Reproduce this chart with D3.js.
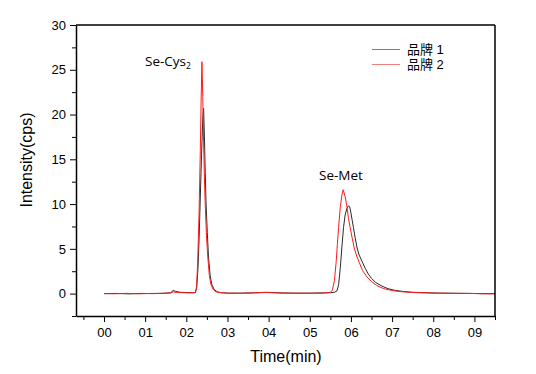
<!DOCTYPE html>
<html><head><meta charset="utf-8">
<script src="https://cdn.jsdelivr.net/npm/d3@7/dist/d3.min.js"></script>
<style>body{margin:0;background:#fff}svg{display:block}</style>
</head><body>
<svg id="c" width="536" height="374"></svg>
<script>
// ---- data ----
const seriesNames = ["品牌 1", "品牌 2"];
const time1 = [0,0.3,0.6,0.9,1.2,1.5,1.62,1.68,1.74,1.85,2.0,2.15,2.22,2.25,2.28,2.31,2.335,2.37,2.40,2.42,2.44,2.46,2.48,2.51,2.54,2.58,2.62,2.68,2.75,2.85,3.0,3.3,3.6,3.95,4.3,4.6,5.0,5.3,5.5,5.6,5.66,5.7,5.74,5.78,5.82,5.86,5.9,5.94,5.97,6.0,6.03,6.06,6.1,6.15,6.2,6.27,6.35,6.42,6.5,6.6,6.75,6.9,7.05,7.25,7.5,7.8,8.1,8.5,8.9,9.2,9.5];
const int1  = [0.0,0.02,-0.03,0.02,0.0,0.05,0.1,0.35,0.25,0.15,0.12,0.1,0.12,0.6,2.5,6.0,10.0,15.5,19.5,20.7,17.5,13.5,10.0,6.8,4.0,2.0,1.0,0.45,0.2,0.1,0.05,0.05,0.08,0.15,0.08,0.05,0.05,0.08,0.1,0.15,0.3,1.0,2.8,5.2,7.4,8.8,9.5,9.8,9.7,9.0,8.2,7.4,6.3,5.1,4.3,3.6,2.8,2.2,1.7,1.25,0.85,0.55,0.38,0.25,0.15,0.1,0.06,0.04,0.02,0.0,0.0];
const time2 = [0,0.25,0.55,0.85,1.15,1.45,1.62,1.69,1.76,1.9,2.05,2.18,2.22,2.25,2.28,2.31,2.34,2.36,2.38,2.40,2.42,2.44,2.46,2.49,2.52,2.56,2.6,2.65,2.72,2.85,3.0,3.3,3.6,3.95,4.3,4.7,5.0,5.3,5.45,5.5,5.55,5.6,5.64,5.67,5.7,5.74,5.78,5.81,5.83,5.86,5.9,5.94,5.98,6.03,6.08,6.14,6.2,6.28,6.39,6.5,6.63,6.8,7.0,7.2,7.5,7.8,8.1,8.5,8.9,9.2,9.5];
const int2  = [0.0,-0.02,0.03,-0.02,0.02,0.03,0.08,0.2,0.12,0.1,0.08,0.1,0.12,0.8,4.0,9.0,16.0,21.5,25.9,22.0,17.0,13.0,10.0,6.5,4.2,2.0,1.0,0.5,0.2,0.1,0.05,0.04,0.08,0.12,0.06,0.05,0.04,0.06,0.1,0.15,0.4,1.5,3.5,5.5,7.4,9.6,11.0,11.6,11.3,10.8,9.8,8.4,7.4,6.2,5.1,4.2,3.5,2.6,1.86,1.35,0.9,0.55,0.35,0.22,0.12,0.08,0.05,0.03,0.02,-0.02,-0.03];
const xTicks = [0,1,2,3,4,5,6,7,8,9];
const xTickLabels = ["00","01","02","03","04","05","06","07","08","09"];
const yTicks = [0,5,10,15,20,25,30];

// ---- layout ----
const svg = d3.select("#c");
const L = 76, R = 495, T = 25, B = 316;
const x = d3.scaleLinear().domain([-0.68, 9.5]).range([L, R]);
const y = d3.scaleLinear().domain([-2.5, 30]).range([B, T]);
const font = "'Liberation Sans', Arial, 'Noto Sans CJK SC', sans-serif";

// series lines
const line = d3.line().x(d => x(d[0])).y(d => y(d[1]));
const d1 = time1.map((t, i) => [t, int1[i]]);
const d2 = time2.map((t, i) => [t, int2[i]]);
svg.append("path").attr("d", line(d1)).attr("fill", "none").attr("stroke", "#2a2a2a").attr("stroke-width", 1);
svg.append("path").attr("d", line(d2)).attr("fill", "none").attr("stroke", "#ff1a1a").attr("stroke-width", 1);

// axes: minor ticks
const xMinor = d3.range(-0.5, 9.51, 1);
const yMinor = d3.range(-2.5, 30, 5);
svg.append("g").attr("transform", `translate(0,${B})`)
  .call(d3.axisBottom(x).tickValues(xMinor).tickSize(4).tickFormat(""))
  .call(g => g.select(".domain").remove());
svg.append("g").attr("transform", `translate(${L},0)`)
  .call(d3.axisLeft(y).tickValues(yMinor).tickSize(4).tickFormat(""))
  .call(g => g.select(".domain").remove());

// major axes
const gx = svg.append("g").attr("transform", `translate(0,${B})`)
  .call(d3.axisBottom(x).tickValues(xTicks).tickSize(6).tickPadding(6).tickSizeOuter(0)
    .tickFormat((d, i) => xTickLabels[i]));
const gy = svg.append("g").attr("transform", `translate(${L},0)`)
  .call(d3.axisLeft(y).tickValues(yTicks).tickSize(6).tickPadding(4).tickSizeOuter(0));
[gx, gy].forEach(g => {
  g.selectAll("text").attr("font-family", font).attr("font-size", 13).attr("fill", "#000");
  g.selectAll("line").attr("stroke", "#000");
  g.select(".domain").attr("stroke", "#000").attr("stroke-width", 1.5);
});
svg.selectAll("g line").attr("stroke", "#000");
// frame top & right
svg.append("line").attr("x1", L).attr("x2", R).attr("y1", T).attr("y2", T).attr("stroke", "#000").attr("stroke-width", 1.5);
svg.append("line").attr("x1", R).attr("x2", R).attr("y1", T).attr("y2", B).attr("stroke", "#000").attr("stroke-width", 1.5);

// titles
svg.append("text").attr("x", 286).attr("y", 362).attr("text-anchor", "middle")
  .attr("font-family", font).attr("font-size", 16).text("Time(min)");
svg.append("text").attr("transform", "translate(32,160) rotate(-90)").attr("text-anchor", "middle")
  .attr("font-family", font).attr("font-size", 16).text("Intensity(cps)");

// annotations
const ann = svg.append("text").attr("x", 145).attr("y", 66).attr("font-family", "'Open Sans', sans-serif").attr("font-size", 13.5);
ann.append("tspan").text("Se-Cys");
ann.append("tspan").attr("font-size", 8.5).attr("dy", 3).text("2");
svg.append("text").attr("x", 319).attr("y", 180).attr("font-family", "'Open Sans', sans-serif").attr("font-size", 13.5).text("Se-Met");

// legend
const colors = ["#808080", "#f08080"];
seriesNames.forEach((n, i) => {
  const yy = 49.5 + i * 15;
  svg.append("line").attr("x1", 372).attr("x2", 400).attr("y1", yy).attr("y2", yy).attr("stroke", colors[i]).attr("stroke-width", 1);
  svg.append("text").attr("x", 407).attr("y", yy + 4.5).attr("font-family", font).attr("font-size", 13).text(n);
});
</script>
</body></html>
